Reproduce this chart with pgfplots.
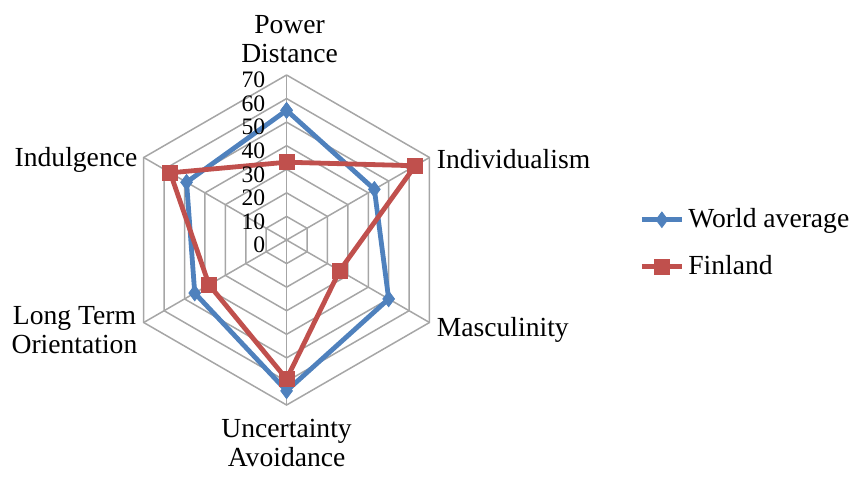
\documentclass[border=0pt]{standalone}
\usepackage{fontspec}
\setmainfont{Liberation Serif}
\usepackage{pgfplots}
\pgfplotsset{compat=1.18}
\usepgfplotslibrary{polar}
\definecolor{wblue}{HTML}{4F81BD}
\definecolor{fred}{HTML}{C0504D}
\definecolor{gridg}{HTML}{A6A6A6}
\begin{document}
\begin{tikzpicture}
\path[use as bounding box] (-143.3bp,-118.5bp) rectangle (283.2bp,120bp);
\begin{polaraxis}[
  at={(0,0)}, anchor=center,
  scale only axis, width=165bp, height=165bp,
  ymin=0, ymax=70,
  hide axis, clip=false,
  legend style={draw=none, fill=none, font=\fontsize{13.8bp}{16bp}\selectfont,
    at={(axis description cs:1.55,0.49)}, anchor=west, row sep=8.5bp,
    /tikz/every even column/.append style={column sep=0bp}},
  legend cell align=left,
  legend image code/.code={\draw[mark repeat=2,mark phase=2] plot coordinates {(0bp,0bp) (10bp,0bp) (20bp,0bp)};},
]
% grid rings
\foreach \r in {10,20,30,40,50,60,70}{
  \edef\tmp{\noexpand\addplot[forget plot, gridg, line width=0.75bp] coordinates {(90,\r) (30,\r) (-30,\r) (-90,\r) (-150,\r) (-210,\r) (90,\r)};}
  \tmp
}
% spokes
\addplot[forget plot, gridg, line width=0.75bp] coordinates {(90,0) (90,70)};
\addplot[forget plot, gridg, line width=0.75bp] coordinates {(30,0) (30,70)};
\addplot[forget plot, gridg, line width=0.75bp] coordinates {(-30,0) (-30,70)};
\addplot[forget plot, gridg, line width=0.75bp] coordinates {(-90,0) (-90,70)};
\addplot[forget plot, gridg, line width=0.75bp] coordinates {(-150,0) (-150,70)};
\addplot[forget plot, gridg, line width=0.75bp] coordinates {(-210,0) (-210,70)};
% series
\addplot[wblue, line width=2.4bp, mark=diamond*, mark size=3.9bp, mark options={solid, line width=0.4bp}] coordinates {
  (90,55) (30,43) (-30,50) (-90,64) (-150,45) (-210,49) (90,55)};
\addlegendentry{World average}
\addplot[fred, line width=2.4bp, mark=square*, mark size=3.7bp, mark options={solid, line width=0.4bp}] coordinates {
  (90,33) (30,63) (-30,26) (-90,59) (-150,38) (-210,57) (90,33)};
\addlegendentry{Finland}
% tick labels
\foreach \v in {0,10,20,30,40,50,60,70}{
  \edef\tmp{\noexpand\node[anchor=east, inner sep=0pt, font=\noexpand\fontsize{11.8bp}{14bp}\noexpand\selectfont, xshift=-10.5bp, yshift=-2.5bp] at (axis cs:90,\v) {\v};}
  \tmp
}
% category labels
\begin{scope}[every node/.style={font=\fontsize{13.8bp}{14.5bp}\selectfont, inner sep=0pt, align=center}]
\node[anchor=south, yshift=6bp, xshift=1.5bp] at (axis cs:90,70) {Power\\Distance};
\node[anchor=west, xshift=3.5bp, yshift=-1bp] at (axis cs:30,70) {Individualism};
\node[anchor=west, xshift=3.5bp, yshift=-3.5bp] at (axis cs:-30,70) {Masculinity};
\node[anchor=north, yshift=-7bp] at (axis cs:-90,70) {Uncertainty\\Avoidance};
\node[anchor=east, xshift=-3bp, yshift=-4bp] at (axis cs:-150,70) {Long Term\\Orientation};
\node[anchor=east, xshift=-3bp, yshift=-1bp] at (axis cs:-210,70) {Indulgence};
\end{scope}
\end{polaraxis}
\end{tikzpicture}
\end{document}
